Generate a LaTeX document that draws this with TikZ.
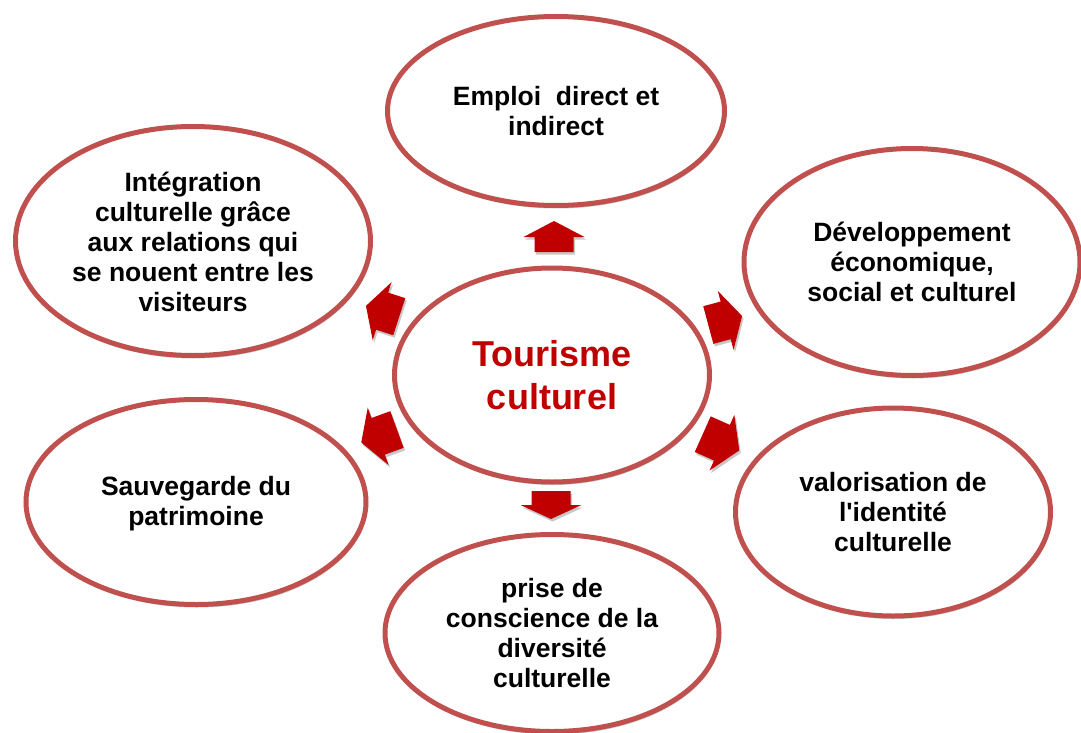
\documentclass[tikz,border=0pt]{standalone}
\usepackage{fontspec}
\setmainfont{Liberation Sans}[Ligatures=TeXOff]
\usetikzlibrary{shapes.geometric,shadows}
\definecolor{ring}{HTML}{C0504D}
\definecolor{arr}{HTML}{C00000}
\tikzset{
  bubble/.style={ellipse, draw=ring, line width=5pt, fill=white, inner sep=0pt,
    drop shadow={shadow xshift=1pt, shadow yshift=-3pt, opacity=0.22, fill=black}},
  lbl/.style={align=center, font=\fontsize{26.5}{30}\selectfont\bfseries, inner sep=0pt},
  ctr/.style={align=center, font=\fontsize{36}{43}\selectfont\bfseries, text=arr, inner sep=0pt},
  pics/arrshape/.style n args={3}{code={
    \fill[#3] (-#1/2,-19.5) -- ({#1/2-#2},-19.5) -- ({#1/2-#2},-30.5) -- (#1/2,0)
      -- ({#1/2-#2},30.5) -- ({#1/2-#2},19.5) -- (-#1/2,19.5) -- cycle;}}
}
\newcommand\blockarr[5]{%
  \pic[shift={(#1+1.5,#2+2.5)}, rotate=#3] {arrshape={#4}{#5}{black!22}};
  \pic[shift={(#1,#2)}, rotate=#3] {arrshape={#4}{#5}{arr}};
}
\begin{document}
\begin{tikzpicture}[x=1pt,y=-1pt]
\useasboundingbox (0,0) rectangle (1081,733);
% ellipses
\node[bubble, minimum width=337, minimum height=189] (e1) at (556,111) {};
\node[bubble, minimum width=355, minimum height=229] (e2) at (193,241) {};
\node[bubble, minimum width=336, minimum height=227] (e3) at (912,262) {};
\node[bubble, minimum width=340, minimum height=205] (e4) at (196,502) {};
\node[bubble, minimum width=315, minimum height=208] (e5) at (893,512) {};
\node[bubble, minimum width=334, minimum height=197] (e6) at (552,633) {};
\node[bubble, minimum width=315, minimum height=214] (e0) at (552,375) {};
% texts
\node[ctr] (t0) at (e0) {Tourisme\\culturel};
\node[lbl] (t1) at (e1) {Emploi\ \ direct et\\indirect};
\node[lbl] (t2) at ([yshift=-1pt]e2) {Intégration\\culturelle grâce\\aux relations qui\\se nouent entre les\\visiteurs};
\node[lbl] (t3) at (e3) {Développement\\économique,\\social et culturel};
\node[lbl] (t4) at ([yshift=-2pt]e4) {Sauvegarde du\\patrimoine};
\node[lbl] (t5) at (e5) {valorisation de\\l'identité\\culturelle};
\node[lbl] (t6) at (e6) {prise de\\conscience de la\\diversité\\culturelle};
% block arrows
\blockarr{554}{236.5}{90}{31}{16}
\blockarr{551}{505}{270}{28}{14}
\blockarr{382.6}{311.3}{162}{35}{17}
\blockarr{725.2}{320.5}{15}{35}{17}
\blockarr{379.1}{436}{200}{38}{18}
\blockarr{721}{442.3}{-24}{40}{19}
\end{tikzpicture}
\end{document}
